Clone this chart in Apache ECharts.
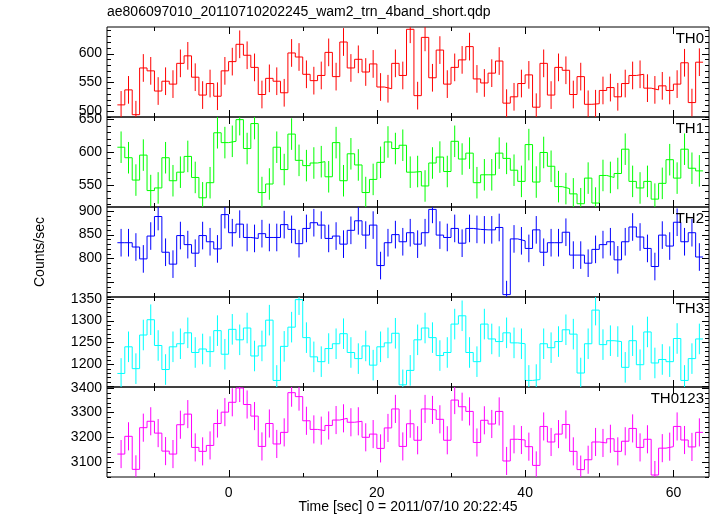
<!DOCTYPE html>
<html><head><meta charset="utf-8">
<script src="https://cdn.jsdelivr.net/npm/echarts@6/dist/echarts.min.js"></script>
<style>html,body{margin:0;padding:0;background:#fff}#c{width:717px;height:516px}</style>
</head><body><div id="c"></div>
<script>
// ---- data ----
const timeCenters = [-14.5,-13.5,-12.5,-11.5,-10.5,-9.5,-8.5,-7.5,-6.5,-5.5,-4.5,-3.5,-2.5,-1.5,-0.5,
 0.5,1.5,2.5,3.5,4.5,5.5,6.5,7.5,8.5,9.5,10.5,11.5,12.5,13.5,14.5,15.5,16.5,17.5,18.5,19.5,
 20.5,21.5,22.5,23.5,24.5,25.5,26.5,27.5,28.5,29.5,30.5,31.5,32.5,33.5,34.5,35.5,36.5,37.5,38.5,39.5,
 40.5,41.5,42.5,43.5,44.5,45.5,46.5,47.5,48.5,49.5,50.5,51.5,52.5,53.5,54.5,55.5,56.5,57.5,58.5,59.5,
 60.5,61.5,62.5,63.5];
const binHalfWidth = 0.5;

const th0 = [511,537,494,575,570,535,552,547,583,596,559,528,548,526,570,
 586,616,597,576,529,557,552,532,601,594,
 564,553,562,602,560,620,575,590,568,582,
 542,539,583,562,642,527,628,558,606,547,
 576,589,612,556,549,566,587,514,525,548,
 563,507,583,528,576,571,529,560,512,513,
 536,541,525,548,562,564,540,537,544,536,
 547,584,515,585];
const th1 = [607,591,557,595,541,545,591,556,569,593,561,530,553,629,614,
 616,649,605,643,538,551,607,573,627,587,
 579,583,585,562,614,556,597,580,538,558,
 584,615,605,610,569,570,548,583,592,570,
 616,589,598,553,565,565,598,590,572,555,
 611,554,599,578,547,544,536,521,560,522,
 564,561,567,604,555,545,555,528,552,588,
 560,604,575,571];
const th2 = [833,833,824,799,847,888,813,788,848,829,811,848,835,820,892,
 854,872,844,842,852,844,844,871,861,831,
 863,875,870,842,847,830,859,879,849,870,
 785,833,850,835,854,830,854,903,849,844,
 863,832,863,861,860,860,865,724,841,837,
 821,860,813,833,833,855,807,807,790,819,
 829,835,797,835,866,845,821,783,849,826,
 876,835,854,803];
const th3 = [1179,1240,1190,1267,1302,1243,1188,1240,1247,1272,1227,1235,1229,1277,1223,
 1280,1256,1283,1219,1242,1301,1163,1241,1285,1348,
 1261,1217,1206,1236,1247,1270,1227,1213,1242,1198,
 1240,1249,1271,1153,1186,1256,1283,1261,1220,1227,
 1292,1311,1227,1206,1292,1258,1252,1272,1249,1247,
 1163,1165,1247,1238,1252,1279,1269,1180,1247,1324,
 1245,1254,1252,1193,1254,1199,1274,1203,1211,1206,
 1259,1163,1213,1258];
const th0123 = [3131,3203,3069,3238,3264,3216,3143,3131,3250,3293,3158,3142,3166,3255,3301,
 3341,3399,3332,3285,3162,3255,3172,3219,3380,3364,
 3266,3231,3226,3247,3269,3276,3260,3264,3199,3212,
 3154,3237,3314,3162,3254,3187,3314,3310,3272,3187,
 3350,3323,3304,3178,3268,3253,3304,3103,3191,3188,
 3161,3085,3243,3180,3212,3251,3142,3068,3108,3180,
 3176,3193,3142,3183,3235,3158,3191,3046,3155,3161,
 3243,3188,3160,3219];
// typical 1-sigma error per band
const th0Err = 24, th1Err = 24, th2Err = 29, th3Err = 35, th0123Err = 57;

const panelNames = ['TH0','TH1','TH2','TH3','TH0123'];
const th0Ticks = [500,550,600];
const th1Ticks = [550,600,650];
const th2Ticks = [800,850,900];
const th3Ticks = [1200,1250,1300,1350];
const th0123Ticks = [3100,3200,3300,3400];
const xTickLabels = [0,20,40,60];
const xMinorTicks = [-10,10,30,50];
const titleText = 'ae806097010_20110710202245_wam2_trn_4band_short.qdp';
const xName = 'Time [sec] 0 = 2011/07/10 20:22:45';
const yName = 'Counts/sec';

// ---- layout / style ----
const FONT = "'Liberation Sans', Arial, Helvetica, sans-serif";
const panels = [
  {vals: th0, err: th0Err, ticks: th0Ticks, color: '#ff0000', min: 490, max: 646, minor: 10},
  {vals: th1, err: th1Err, ticks: th1Ticks, color: '#00ff00', min: 516, max: 653, minor: 10},
  {vals: th2, err: th2Err, ticks: th2Ticks, color: '#0000ff', min: 719, max: 908, minor: 10},
  {vals: th3, err: th3Err, ticks: th3Ticks, color: '#00ffff', min: 1148, max: 1354, minor: 10},
  {vals: th0123, err: th0123Err, ticks: th0123Ticks, color: '#ff00ff', min: 3038, max: 3403, minor: 20}
];
const GL = 107, GR = 8, TOP0 = 27, PH = 90;
const XMIN = -16.4, XMAX = 64.8;
const MAJOR_LEN = 7, MINOR_LEN = 4;
const plain = v => String(Math.round(v));

const grids = [], xAxes = [], yAxes = [], series = [], titles = [];
titles.push({text: titleText, left: GL, top: 5, padding: 0,
  textStyle: {fontSize: 14, fontWeight: 'normal', color: '#000', fontFamily: FONT}});

panels.forEach((p, i) => {
  const top = TOP0 + i * PH;
  grids.push({left: GL, right: GR, top: top, height: PH, show: true, borderColor: '#000', borderWidth: 1});
  const last = i === panels.length - 1;
  xAxes.push({type: 'value', gridIndex: i, min: XMIN, max: XMAX, position: 'bottom',
    splitLine: {show: false}, axisLine: {show: false, onZero: false}, axisTick: {show: false},
    axisLabel: {show: last, customValues: xTickLabels, formatter: plain, fontSize: 14, color: '#000', fontFamily: FONT, margin: 9}});
  yAxes.push({type: 'value', gridIndex: i, min: p.min, max: p.max, position: 'left',
    splitLine: {show: false}, axisLine: {show: false, onZero: false}, axisTick: {show: false},
    axisLabel: {show: true, customValues: p.ticks, formatter: plain, fontSize: 14, color: '#000', fontFamily: FONT, margin: 5}});

  const stepData = timeCenters.map((t, k) => [t - binHalfWidth, p.vals[k]]);
  stepData.push([timeCenters[timeCenters.length - 1] + binHalfWidth, p.vals[p.vals.length - 1]]);
  series.push({type: 'line', xAxisIndex: i, yAxisIndex: i, step: 'end', data: stepData,
    symbol: 'none', lineStyle: {color: p.color, width: 1}, clip: true, z: 3, silent: true});
  const errData = timeCenters.map((t, k) => [t, p.vals[k], p.err]);
  series.push({type: 'custom', xAxisIndex: i, yAxisIndex: i, data: errData, clip: true, z: 2, silent: true,
    renderItem: (params, api) => {
      const x = api.value(0), y = api.value(1), e = api.value(2);
      const a = api.coord([x, y - e]), b = api.coord([x, y + e]);
      return {type: 'line', shape: {x1: a[0], y1: a[1], x2: b[0], y2: b[1]}, style: {stroke: p.color, lineWidth: 1}};
    }});
  titles.push({text: panelNames[i], right: 13, top: top + 4, padding: 0,
    textStyle: {fontSize: 15, fontWeight: 'normal', color: '#000', fontFamily: FONT}});
});

const chart = echarts.init(document.getElementById('c'));
chart.setOption({
  animation: false,
  backgroundColor: '#fff',
  title: titles,
  grid: grids,
  xAxis: xAxes,
  yAxis: yAxes,
  series: series
});

// frame ticks on all four sides, positioned through each grid's own scales
const gfx = [
  {type: 'text', x: 408, y: 507, z: 100, style: {text: xName, fill: '#000', font: '14px ' + FONT, textAlign: 'center', textVerticalAlign: 'middle'}},
  {type: 'text', x: 40, y: 252, z: 100, rotation: Math.PI / 2, style: {text: yName, fill: '#000', font: '14px ' + FONT, textAlign: 'center', textVerticalAlign: 'middle'}}
];
const tickLine = (x1, y1, x2, y2) => ({type: 'line', z: 100, silent: true,
  shape: {x1: x1, y1: y1, x2: x2, y2: y2}, style: {stroke: '#000', lineWidth: 1}});
panels.forEach((p, i) => {
  const f = {gridIndex: i};
  const lb = chart.convertToPixel(f, [XMIN, p.min]);
  const rt = chart.convertToPixel(f, [XMAX, p.max]);
  const xl = lb[0], yb = lb[1], xr = rt[0], yt = rt[1];
  const addX = (v, len) => {
    const px = Math.round(chart.convertToPixel(f, [v, p.min])[0]) + 0.5;
    gfx.push(tickLine(px, yb, px, yb - len));
    gfx.push(tickLine(px, yt, px, yt + len));
  };
  xTickLabels.forEach(v => addX(v, MAJOR_LEN));
  xMinorTicks.forEach(v => addX(v, MINOR_LEN));
  const mStart = Math.ceil(p.min / p.minor) * p.minor;
  for (let v = mStart; v <= p.max; v += p.minor) {
    const len = v % (p.minor * 5) === 0 ? MAJOR_LEN : MINOR_LEN;
    const py = Math.round(chart.convertToPixel(f, [XMIN, v])[1]) + 0.5;
    gfx.push(tickLine(xl, py, xl + len, py));
    gfx.push(tickLine(xr, py, xr - len, py));
  }
});
chart.setOption({graphic: gfx});
</script>
</body></html>
